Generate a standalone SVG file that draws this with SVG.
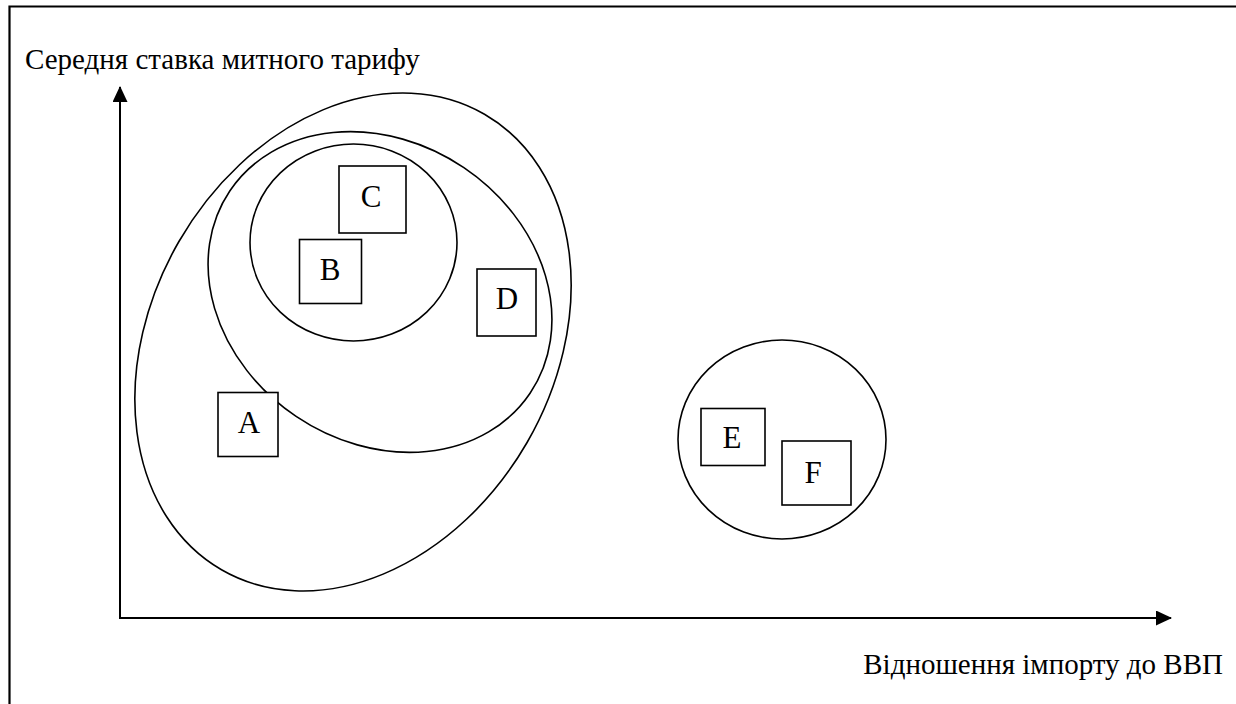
<svg xmlns="http://www.w3.org/2000/svg" width="1236" height="704" viewBox="0 0 1236 704">
<style>
.frame{fill:none;stroke:#000;stroke-width:2.2}
.axis{fill:none;stroke:#000;stroke-width:2}
.ring{fill:none;stroke:#000;stroke-width:1.6}
.box{fill:#fff;stroke:#000;stroke-width:1.6}
.lbl{font-family:"Liberation Serif","Times New Roman",serif;font-size:31px;fill:#000;text-anchor:middle}
.ax{font-family:"Liberation Serif","Times New Roman",serif;font-size:29px;fill:#000}
</style>
<defs>
<marker id="arr" markerWidth="16" markerHeight="16" refX="15" refY="7.5" orient="auto" markerUnits="userSpaceOnUse">
<path d="M0,0 L16,7.5 L0,15 Z" fill="#000"/>
</marker>
</defs>
<rect width="1236" height="704" fill="#fff"/>
<path class="frame" d="M9.5,704 V6.5 H1236"/>
<g id="groups">
<ellipse id="g-outer" class="ring" cx="353" cy="342" rx="263" ry="201" transform="rotate(-60 353 342)"/>
<ellipse id="g-middle" class="ring" cx="380" cy="292" rx="181" ry="150" transform="rotate(34 380 292)"/>
<ellipse id="g-inner" class="ring" cx="353.5" cy="242.5" rx="103.5" ry="98.5"/>
<ellipse id="g-ef" class="ring" cx="782" cy="439.5" rx="104" ry="99.5"/>
</g>
<g id="connectors">
<line class="axis" x1="120" y1="619" x2="120" y2="87" marker-end="url(#arr)"/>
<line class="axis" x1="119" y1="618" x2="1171" y2="618" marker-end="url(#arr)"/>
</g>
<g id="node-C"><rect class="box" x="339" y="166" width="67" height="67"/><text class="lbl" x="371" y="207">C</text></g>
<g id="node-B"><rect class="box" x="299.5" y="239.5" width="62" height="64"/><text class="lbl" x="330" y="280">B</text></g>
<g id="node-D"><rect class="box" x="477" y="269" width="59" height="67"/><text class="lbl" x="507" y="309">D</text></g>
<g id="node-A"><rect class="box" x="218" y="392.5" width="60" height="64"/><text class="lbl" x="249" y="433">A</text></g>
<g id="node-E"><rect class="box" x="701" y="408.5" width="64" height="57"/><text class="lbl" x="732" y="448">E</text></g>
<g id="node-F"><rect class="box" x="782" y="441" width="69" height="64"/><text class="lbl" x="813" y="483">F</text></g>
<g id="axis-labels">
<text class="ax" x="25" y="69">Середня ставка митного тарифу</text>
<text class="ax" x="1223" y="674" text-anchor="end">Відношення імпорту до ВВП</text>
</g>
</svg>
